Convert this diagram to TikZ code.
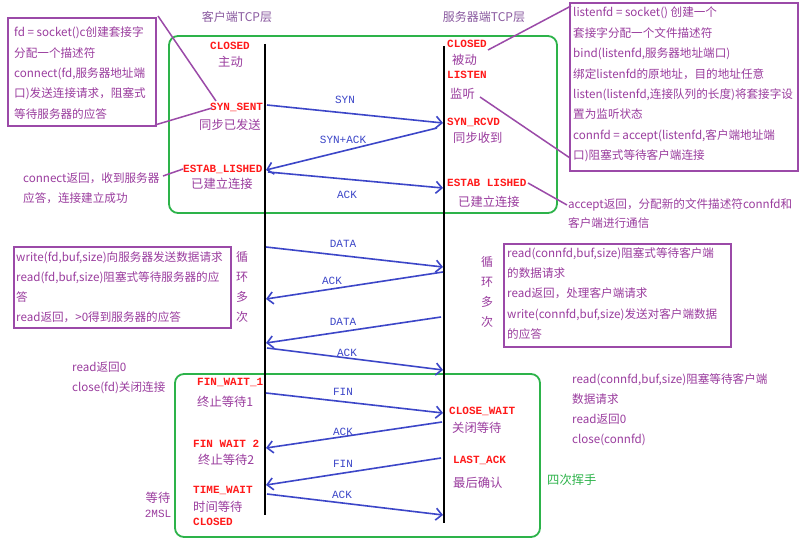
\documentclass[tikz,border=0pt]{standalone}
\usepackage{fontspec}
\usetikzlibrary{arrows.meta}
\newfontfamily\cjk{Noto Sans CJK SC}
\newfontfamily\mono{Liberation Mono}
\definecolor{pur}{HTML}{9B4AA8}
\definecolor{ptxt}{HTML}{9A3C9E}
\definecolor{ttl}{HTML}{8A5AA0}
\definecolor{sred}{HTML}{FF1A1A}
\definecolor{ablue}{HTML}{3C46C8}
\definecolor{grn}{HTML}{2DB34A}
\tikzset{
  statelbl/.style={font=\mono\bfseries\fontsize{11}{13}\selectfont, text=sred, inner sep=0, anchor=west},
  sublbl/.style={font=\cjk\fontsize{12.3}{14}\selectfont, text=ptxt, inner sep=0, anchor=west},
  notetxt/.style={font=\cjk\fontsize{11.6}{20.4}\selectfont, text=ptxt, inner sep=0, anchor=west, align=left},
  vtxt/.style={font=\cjk\fontsize{12}{20}\selectfont, text=ptxt, inner sep=0, align=center},
  msg/.style={draw=ablue, line width=1.6, -{Straight Barb[length=6pt,width=12pt,line width=1.6pt]}},
  msglbl/.style={font=\mono\fontsize{11}{13}\selectfont, text=ablue, inner sep=0},
  notebox/.style={draw=pur, line width=1.8, inner sep=0, anchor=north west},
  grnbox/.style={draw=grn, line width=1.8, rounded corners=9},
  lifeline/.style={draw=black, line width=2.4},
  link/.style={draw=pur, line width=1.5},
  ttltxt/.style={font=\cjk\fontsize{12}{14}\selectfont, text=ttl, inner sep=0}
}
\begin{document}
\begin{tikzpicture}[x=1pt,y=-1pt]
\useasboundingbox[fill=white] (0,0) rectangle (799,540);

% green frames
\draw[grnbox] (169,36) rectangle (557,213);
\draw[grnbox] (175,374) rectangle (540,537);

% titles
\node[ttltxt] (tc) at (237,17) {客户端TCP层};
\node[ttltxt] (ts) at (484,17) {服务器端TCP层};

% lifelines
\coordinate (ctop) at (265,44);
\coordinate (cbot) at (265,515);
\coordinate (stop) at (444,46);
\coordinate (sbot) at (444,523);
\draw[lifeline] (ctop) -- (cbot);
\draw[lifeline] (stop) -- (sbot);

% client states
\node[statelbl] (cclosed) at (210,46) {CLOSED};
\node[sublbl] (czd) at (218,62) {主动};
\node[statelbl] (csyn) at (210,107) {SYN\_SENT};
\node[sublbl] (csyns) at (199,125) {同步已发送};
\node[statelbl] (cest) at (183,169) {ESTAB\_LISHED};
\node[sublbl] (cests) at (191,184) {已建立连接};
\node[statelbl] (cfw1) at (197,382) {FIN\_WAIT\_1};
\node[sublbl] (cfw1s) at (197,402) {终止等待1};
\node[statelbl] (cfw2) at (193,444) {FIN WAIT 2};
\node[sublbl] (cfw2s) at (198,460) {终止等待2};
\node[statelbl] (ctw) at (193,490) {TIME\_WAIT};
\node[sublbl] (ctws) at (193,507) {时间等待};
\node[statelbl] (cclosed2) at (193,522) {CLOSED};
\node[sublbl, anchor=center] (cdd) at (158,498) {等待};
\node[font=\mono\fontsize{11}{13}\selectfont, text=ptxt, inner sep=0] (cmsl) at (158,514) {2MSL};

% server states
\node[statelbl] (sclosed) at (447,44) {CLOSED};
\node[sublbl] (sbd) at (452,60) {被动};
\node[statelbl] (slisten) at (447,75) {LISTEN};
\node[sublbl] (sjt) at (450,94) {监听};
\node[statelbl] (ssyn) at (447,122) {SYN\_RCVD};
\node[sublbl] (ssyns) at (453,138) {同步收到};
\node[statelbl] (sest) at (447,183) {ESTAB LISHED};
\node[sublbl] (sests) at (458,202) {已建立连接};
\node[statelbl] (scw) at (449,411) {CLOSE\_WAIT};
\node[sublbl] (scws) at (452,428) {关闭等待};
\node[statelbl] (sla) at (453,460) {LAST\_ACK};
\node[sublbl] (slas) at (453,483) {最后确认};
\node[sublbl, text=grn] (shake) at (547,480) {四次挥手};

% message end points
\coordinate (m1a) at (267,105); \coordinate (m1b) at (443,123);
\coordinate (m2a) at (437,128); \coordinate (m2b) at (266,170);
\coordinate (m3a) at (268,172); \coordinate (m3b) at (443,188);
\coordinate (m4a) at (266,247); \coordinate (m4b) at (443,267);
\coordinate (m5a) at (443,272); \coordinate (m5b) at (266,299);
\coordinate (m6a) at (441,317); \coordinate (m6b) at (266,343);
\coordinate (m7a) at (267,348); \coordinate (m7b) at (443,370);
\coordinate (m8a) at (266,393); \coordinate (m8b) at (443,413);
\coordinate (m9a) at (442,422); \coordinate (m9b) at (266,448);
\coordinate (m10a) at (441,458); \coordinate (m10b) at (266,485);
\coordinate (m11a) at (267,494); \coordinate (m11b) at (443,515);
\draw[msg] (m1a) -- (m1b);
\draw[msg] (m2a) -- (m2b);
\draw[msg] (m3a) -- (m3b);
\draw[msg] (m4a) -- (m4b);
\draw[msg] (m5a) -- (m5b);
\draw[msg] (m6a) -- (m6b);
\draw[msg] (m7a) -- (m7b);
\draw[msg] (m8a) -- (m8b);
\draw[msg] (m9a) -- (m9b);
\draw[msg] (m10a) -- (m10b);
\draw[msg] (m11a) -- (m11b);
\node[msglbl] (l1) at (345,100) {SYN};
\node[msglbl] (l2) at (343,140) {SYN+ACK};
\node[msglbl] (l3) at (347,195) {ACK};
\node[msglbl] (l4) at (343,244) {DATA};
\node[msglbl] (l5) at (332,281) {ACK};
\node[msglbl] (l6) at (343,322) {DATA};
\node[msglbl] (l7) at (347,353) {ACK};
\node[msglbl] (l8) at (343,392) {FIN};
\node[msglbl] (l9) at (343,432) {ACK};
\node[msglbl] (l10) at (343,464) {FIN};
\node[msglbl] (l11) at (342,495) {ACK};

% note boxes
\node[notebox, minimum width=148, minimum height=108] (fdbox) at (7,17) {};
\node[notetxt] (fdtxt) at (14,73) {fd = socket()c创建套接字\\分配一个描述符\\connect(fd,服务器地址端\\口)发送连接请求，阻塞式\\等待服务器的应答};

\node[notebox, minimum width=228, minimum height=168] (srvbox) at (569,2) {};
\node[notetxt] (srvtxt) at (573,84.5) {listenfd = socket() 创建一个\\套接字分配一个文件描述符\\bind(listenfd,服务器地址端口)\\绑定listenfd的原地址，目的地址任意\\listen(listenfd,连接队列的长度)将套接字设\\置为监听状态\\connfd = accept(listenfd,客户端地址端\\口)阻塞式等待客户端连接};

\node[notebox, minimum width=217, minimum height=81] (cbox) at (13,246) {};
\node[notetxt, font=\cjk\fontsize{11.6}{20}\selectfont] (ctxt) at (16,287) {write(fd,buf,size)向服务器发送数据请求\\read(fd,buf,size)阻塞式等待服务器的应\\答\\read返回，>0得到服务器的应答};

\node[notebox, minimum width=227, minimum height=103] (sbox) at (503,243) {};
\node[notetxt, font=\cjk\fontsize{11.6}{20.25}\selectfont] (stxt) at (507,293.5) {read(connfd,buf,size)阻塞式等待客户端\\的数据请求\\read返回，处理客户端请求\\write(connfd,buf,size)发送对客户端数据\\的应答};

% free notes
\node[notetxt, font=\cjk\fontsize{11.6}{20}\selectfont] (conn) at (23,188) {connect返回，收到服务器\\应答，连接建立成功};
\node[notetxt, font=\cjk\fontsize{11.6}{19}\selectfont] (acc) at (568,213.5) {accept返回，分配新的文件描述符connfd和\\客户端进行通信};
\node[notetxt, font=\cjk\fontsize{11.6}{20}\selectfont] (cclose) at (72,378) {read返回0\\close(fd)关闭连接};
\node[notetxt, font=\cjk\fontsize{11.6}{20}\selectfont] (sclose) at (572,410) {read(connfd,buf,size)阻塞等待客户端\\数据请求\\read返回0\\close(connfd)};

\node[vtxt] (cloop) at (242,287) {循\\环\\多\\次};
\node[vtxt] (sloop) at (487,292) {循\\环\\多\\次};

% purple links
\coordinate (k1a) at (158,16); \coordinate (k1b) at (216,101);
\coordinate (k2a) at (155,125); \coordinate (k2b) at (212,108);
\coordinate (k3a) at (163,176); \coordinate (k3b) at (183,169);
\coordinate (k4a) at (488,50); \coordinate (k4b) at (571,6);
\coordinate (k5a) at (480,97); \coordinate (k5b) at (570,158);
\coordinate (k6a) at (528,183); \coordinate (k6b) at (567,205);
\draw[link] (k1a) -- (k1b);
\draw[link] (k2a) -- (k2b);
\draw[link] (k3a) -- (k3b);
\draw[link] (k4a) -- (k4b);
\draw[link] (k5a) -- (k5b);
\draw[link] (k6a) -- (k6b);
\end{tikzpicture}
\end{document}
